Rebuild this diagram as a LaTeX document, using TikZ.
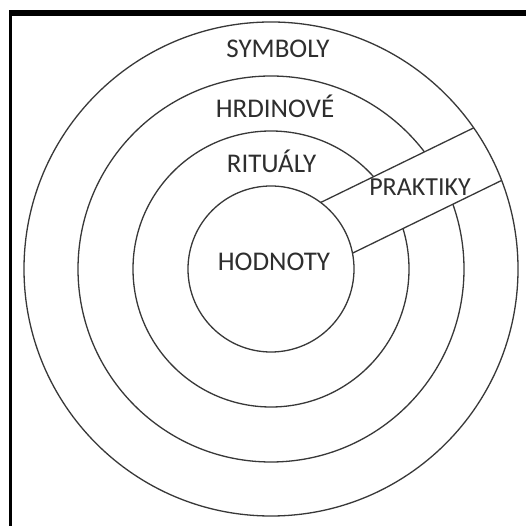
\documentclass[tikz,border=0pt]{standalone}
\usepackage{fontspec}
\setmainfont{Carlito}
\usetikzlibrary{calc}
\begin{document}
\begin{tikzpicture}[x=1pt,y=1pt,
  ring/.style={circle,draw=black!78,line width=1.3pt,inner sep=0pt,minimum size=#1},
  band/.style={draw=black!78,line width=1.3pt},
  lbl/.style={text=black!82,font=\fontsize{27}{30}\selectfont,anchor=base,inner sep=0pt}]
\useasboundingbox (0,0) rectangle (526,526);
\fill[white] (0,0) rectangle (526,526);
% frame
\fill[black] (9,510) rectangle (526,516);
\fill[black] (9,0) rectangle (11.5,516);
\coordinate (c) at (271,257);
% rings that the band interrupts
\node[ring=386pt] (r2) at (c) {};
\node[ring=276pt] (r3) at (c) {};
% band end points
\coordinate (p1) at ($(c)+(116:38)+(26:73.79)$);
\coordinate (p2) at ($(c)+(116:38)+(26:244.06)$);
\coordinate (p3) at ($(c)+(296:21.5)+(26:246.06)$);
\coordinate (p4) at ($(c)+(296:21.5)+(26:80.17)$);
\fill[white] (p1) -- (p2) -- (p3) -- (p4) -- cycle;
% full rings
\node[ring=494pt] (r1) at (c) {};
\node[ring=166pt] (r4) at (c) {};
\draw[band] (p1) -- (p2);
\draw[band] (p4) -- (p3);
% labels
\node[lbl] (sym) at (278,468.5) {SYMBOLY};
\node[lbl] (hrd) at (275,408) {HRDINOVÉ};
\node[lbl] (rit) at (271.5,353) {RITUÁLY};
\node[lbl] (hod) at (274,255) {HODNOTY};
\node[lbl,font=\fontsize{26}{29}\selectfont] (pra) at (420,330) {PRAKTIKY};
\end{tikzpicture}
\end{document}
